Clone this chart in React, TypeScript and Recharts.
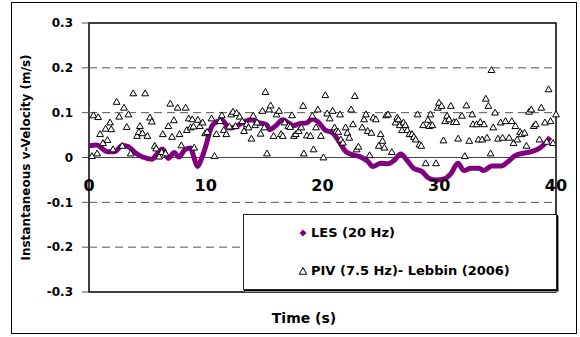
import {
  ComposedChart,
  Legend,
  Line,
  ReferenceArea,
  ReferenceDot,
  ReferenceLine,
  Scatter,
  XAxis,
  YAxis,
  ZAxis
} from "recharts";

const FONT = "'DejaVu Sans', sans-serif";

// LES (20 Hz) trace
const lesTime = [
  0, 0.63, 1.6, 2.2, 2.85, 3.3, 4.1, 4.6, 5.4, 5.7, 6.3, 6.8, 7.3, 7.7, 8.2, 8.7, 9.0, 9.3, 9.6,
  10.0, 10.3, 10.6, 11.4, 12.0, 12.6, 13.3, 13.9, 14.5, 15.2, 15.5, 16.0, 16.6, 17.1, 17.5, 18.0,
  18.7, 19.1, 19.6, 20.2, 20.9, 21.5, 22.0, 22.6, 23.2, 23.9, 24.3, 25.0, 25.6, 26.2, 26.7, 27.2,
  27.8, 28.5, 29.1, 29.7, 30.4, 31.0, 31.6, 32.1, 32.7, 33.4, 33.8, 34.5, 35.3, 35.9, 36.5, 37.3,
  37.9, 38.6, 39.1, 39.5
];
const lesVel = [
  0.026, 0.028, 0.013, 0.013, 0.027, 0.025, 0.008, 0.001, -0.004, 0.004, 0.019, -0.002, 0.011,
  0.001, 0.017, 0.021, -0.001, -0.02, -0.005, 0.025, 0.054, 0.073, 0.083, 0.066, 0.069, 0.08,
  0.084, 0.078, 0.073, 0.062, 0.071, 0.084, 0.077, 0.071, 0.075, 0.078, 0.086, 0.08, 0.062, 0.054,
  0.032, 0.013, 0.006, 0.002, -0.009, -0.02, -0.013, -0.014, -0.005, 0.008, -0.005, -0.024,
  -0.031, -0.046, -0.05, -0.048, -0.036, -0.013, -0.029, -0.024, -0.024, -0.029, -0.019, -0.019,
  -0.009, 0.004, 0.01, 0.013, 0.021, 0.032, 0.045
];

// PIV (7.5 Hz) samples, Lebbin (2006)
const pivTime = [
  0.25, 0.38, 0.7, 0.79, 0.95, 1.2, 1.42, 1.58, 1.8, 1.9, 2.06, 2.37, 2.59, 2.85, 3.0, 3.23, 3.38,
  3.57, 3.79, 4.11, 4.27, 4.36, 4.58, 4.81, 5.0, 5.22, 5.38, 5.63, 5.75, 6.01, 6.23, 6.32, 6.55,
  6.8, 6.96, 7.11, 7.27, 7.59, 7.75, 7.91, 8.28, 8.38, 8.54, 8.7, 8.85, 8.95, 9.01, 9.33, 9.49,
  9.74, 9.96, 10.12, 10.5, 10.75, 10.91, 11.23, 11.38, 11.54, 11.76, 12.02, 12.17, 12.33, 12.55,
  12.65, 12.9, 13.12, 13.28, 13.5, 13.66, 13.91, 14.07, 14.23, 14.39, 14.7, 14.86, 15.02, 15.11,
  15.24, 15.43, 15.56, 15.81, 16.06, 16.28, 16.44, 16.6, 16.76, 17.08, 17.23, 17.39, 17.55, 17.71,
  17.96, 18.18, 18.34, 18.4, 18.66, 18.97, 19.13, 19.23, 19.45, 19.6, 19.86, 20.08, 20.24, 20.4,
  20.62, 20.87, 21.03, 21.19, 21.34, 21.5, 21.57, 21.75, 21.98, 22.13, 22.29, 22.45, 22.61, 22.77,
  22.92, 23.08, 23.4, 23.56, 23.72, 23.87, 24.03, 24.19, 24.35, 24.57, 24.82, 24.98, 25.14, 25.3,
  25.45, 25.61, 25.93, 26.25, 26.4, 26.5, 26.62, 26.81, 26.94, 27.1, 27.26, 27.45, 27.67, 27.83,
  27.98, 28.14, 28.3, 28.46, 28.62, 28.84, 29.03, 29.15, 29.25, 29.41, 29.72, 29.88, 29.98, 30.2,
  30.36, 30.51, 30.67, 30.83, 30.99, 31.24, 31.46, 31.62, 31.94, 32.19, 32.32, 32.57, 32.82,
  32.89, 33.2, 33.36, 33.52, 33.68, 33.83, 33.99, 34.09, 34.21, 34.4, 34.47, 34.62, 34.78, 35.03,
  35.26, 35.42, 35.67, 35.98, 36.21, 36.36, 36.52, 36.68, 36.93, 37.06, 37.31, 37.47, 37.69,
  37.88, 38.1, 38.26, 38.58, 38.74, 39.05, 39.21, 39.37, 39.53, 39.75, 40.0
];
const pivVel = [
  0.002, 0.093, 0.008, 0.089, 0.051, 0.031, 0.063, 0.038, 0.077, 0.062, 0.017, 0.123, 0.09, 0.025,
  0.11, 0.067, 0.095, 0.008, 0.142, 0.047, 0.056, 0.069, 0.053, 0.142, 0.047, 0.088, 0.079, 0.025,
  0.019, 0.001, 0.011, 0.051, 0.008, 0.069, 0.119, 0.045, 0.082, 0.11, 0.051, 0.026, 0.11, 0.06,
  0.086, 0.066, 0.084, 0.068, 0.021, 0.083, 0.069, 0.077, 0.053, 0.056, 0.086, 0.002, 0.051, 0.08,
  0.093, 0.06, 0.051, 0.068, 0.095, 0.101, 0.069, 0.098, 0.09, 0.08, 0.058, 0.073, 0.066, 0.041,
  0.092, 0.071, 0.077, 0.052, 0.103, 0.066, 0.145, 0.008, 0.106, 0.115, 0.047, 0.095, 0.103, 0.051,
  0.047, 0.077, 0.069, 0.067, 0.093, 0.047, 0.051, 0.058, 0.066, 0.114, 0.008, 0.048, 0.047, 0.092,
  0.017, 0.066, 0.106, 0.047, -0.001, 0.138, 0.097, 0.086, 0.103, 0.066, 0.058, 0.056, 0.095,
  0.039, 0.032, 0.066, 0.054, 0.043, 0.106, 0.073, 0.136, 0.017, 0.023, 0.066, 0.084, 0.095, 0.058,
  0.004, 0.054, 0.088, 0.084, 0.025, 0.051, 0.036, 0.021, 0.093, 0.095, 0.011, 0.077, 0.088, 0.084,
  0.071, 0.06, 0.077, 0.071, 0.06, 0.051, 0.051, 0.045, 0.039, 0.095, 0.028, 0.025, 0.071, -0.014,
  0.083, 0.069, 0.095, 0.071, -0.014, 0.11, 0.121, 0.114, 0.037, 0.08, 0.092, 0.084, 0.114, 0.078,
  0.078, 0.041, 0.092, 0.002, 0.115, 0.036, 0.095, 0.073, 0.073, 0.039, 0.078, 0.039, 0.073, 0.13,
  0.043, 0.114, 0.008, 0.194, 0.066, 0.099, 0.041, 0.077, 0.043, 0.08, 0.043, 0.08, 0.031, 0.069,
  0.039, 0.056, 0.051, 0.054, 0.025, 0.101, 0.106, 0.069, 0.073, 0.039, 0.11, 0.077, 0.034, 0.151,
  0.08, 0.031, 0.095
];

const yTicks = [-0.3, -0.2, -0.1, 0, 0.1, 0.2, 0.3];
const dashedLevels = [-0.2, -0.1, 0.1, 0.2];
const xTicks = [0, 10, 20, 30, 40];

const lesData = lesTime.map((t, i) => ({ t, v: lesVel[i] }));
const pivData = pivTime.map((t, i) => ({ t, v: pivVel[i] }));

function LegendBox() {
  return (
    <div
      style={{
        boxSizing: "border-box",
        width: 314,
        height: 76,
        background: "#fff",
        border: "1px solid #222",
        boxShadow: "1px 1px 0 #000, 2px 2px 0 #999",
        fontFamily: FONT,
        fontWeight: "bold",
        fontSize: 13,
        color: "#000",
        position: "relative"
      }}
    >
      <div style={{ position: "absolute", left: 54, top: 10, display: "flex", alignItems: "center" }}>
        <svg width={10} height={10} style={{ marginRight: 3 }}>
          <polygon points="5,1.5 8.5,5 5,8.5 1.5,5" fill="#800080" />
        </svg>
        LES (20 Hz)
      </div>
      <div style={{ position: "absolute", left: 54, top: 48, display: "flex", alignItems: "center" }}>
        <svg width={10} height={10} style={{ marginRight: 3 }}>
          <polygon points="5,1.5 8.8,8.2 1.2,8.2" fill="#fff" stroke="#000" strokeWidth={1} />
        </svg>
        PIV (7.5 Hz)- Lebbin (2006)
      </div>
    </div>
  );
}

function YTitle({ viewBox }: any) {
  const cy = viewBox.y + viewBox.height / 2;
  return (
    <text
      x={26}
      y={cy}
      transform={`rotate(-90, 26, ${cy})`}
      textAnchor="middle"
      dominantBaseline="central"
      fontFamily={FONT}
      fontWeight="bold"
      fontSize={12}
      fill="#000"
    >
      Instantaneous v-Velocity (m/s)
    </text>
  );
}

export default function App() {
  return (
    <div style={{ position: "absolute", left: 0, top: 0, width: 580, height: 337, background: "#fff" }}>
      <div
        style={{
          position: "absolute",
          left: 11,
          top: 2,
          width: 566,
          height: 332,
          boxSizing: "border-box",
          border: "1.5px solid #000"
        }}
      />
      <ComposedChart
        width={580}
        height={337}
        margin={{ top: 23, right: 24, bottom: 45, left: 0 }}
        style={{ position: "absolute", left: 0, top: 0 }}
      >
        <XAxis type="number" dataKey="t" domain={[0, 40]} ticks={xTicks} hide />
        <YAxis
          type="number"
          width={89}
          domain={[-0.3, 0.3]}
          ticks={yTicks}
          axisLine={false}
          tickSize={7}
          tickMargin={9}
          tickLine={{ stroke: "#555" }}
          tick={{ fontFamily: FONT, fontWeight: "bold", fontSize: 12, fill: "#000" }}
          label={<YTitle />}
        />
        <ZAxis range={[20, 20]} />
        {dashedLevels.map((y) => (
          <ReferenceLine key={y} y={y} stroke="#555" strokeDasharray="8 5" strokeWidth={1} />
        ))}
        <ReferenceLine y={0} stroke="#444" strokeWidth={1} />
        <ReferenceArea x1={0} x2={40} y1={-0.3} y2={0.3} fill="none" stroke="#000" strokeWidth={1.5} fillOpacity={0} />
        <Line
          name="LES (20 Hz)"
          data={lesData}
          dataKey="v"
          type="monotone"
          stroke="#800080"
          strokeWidth={5}
          strokeLinejoin="round"
          dot={false}
          isAnimationActive={false}
        />
        <Scatter
          name="PIV (7.5 Hz)- Lebbin (2006)"
          data={pivData}
          dataKey="v"
          shape="triangle"
          fill="#fff"
          stroke="#000"
          strokeWidth={1}
          legendType="triangle"
          isAnimationActive={false}
        />
        {xTicks.map((t) => (
          <ReferenceDot
            key={t}
            x={t}
            y={0}
            r={0}
            fill="none"
            stroke="none"
            label={{
              value: String(t),
              position: "bottom",
              offset: 22,
              fontFamily: FONT,
              fontWeight: "bold",
              fontSize: 16,
              fill: "#000"
            }}
          />
        ))}
        <Legend
          layout="vertical"
          align="center"
          verticalAlign="middle"
          wrapperStyle={{ position: "absolute", left: 243, top: 214, width: 314, height: 76 }}
          content={() => <LegendBox />}
        />
      </ComposedChart>
      <div
        style={{
          position: "absolute",
          left: 254,
          top: 310,
          width: 100,
          textAlign: "center",
          fontFamily: FONT,
          fontWeight: "bold",
          fontSize: 14,
          color: "#000"
        }}
      >
        Time (s)
      </div>
    </div>
  );
}
